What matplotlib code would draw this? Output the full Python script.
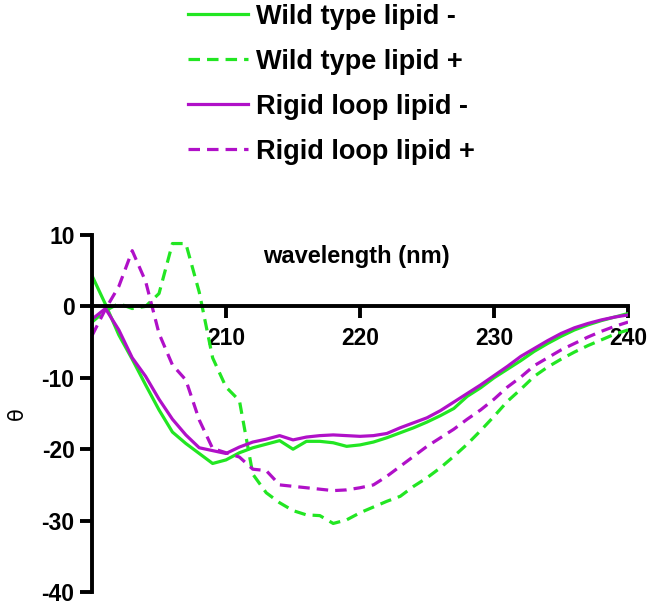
import matplotlib
matplotlib.use("Agg")
import matplotlib.pyplot as plt
import numpy as np

plt.rcParams['font.family'] = ['Liberation Sans', 'DejaVu Sans']
plt.rcParams['axes.unicode_minus'] = False

# wavelength (nm), 1 nm steps
wavelength = np.arange(200, 241)

# Wild type lipid -
wt_minus = [4.3, 0.3, -4.0, -7.4, -11.0, -14.5, -17.6, -19.2, -20.6, -22.0,
            -21.5, -20.5, -19.8, -19.3, -18.8, -20.0, -18.9, -18.9, -19.1, -19.6,
            -19.4, -19.0, -18.4, -17.7, -17.0, -16.2, -15.3, -14.3, -12.6, -11.4,
            -10.0, -8.8, -7.6, -6.3, -5.2, -4.2, -3.3, -2.6, -2.0, -1.5, -1.0]
# Wild type lipid +
wt_plus = [-2.2, -0.6, 0.4, -0.3, 0.0, 1.8, 8.8, 8.8, 2.0, -7.2,
           -11.3, -13.2, -23.5, -26.1, -27.5, -28.6, -29.2, -29.3, -30.4, -29.9,
           -28.9, -28.1, -27.3, -26.6, -25.2, -24.0, -22.6, -21.0, -19.3, -17.4,
           -15.4, -13.3, -11.6, -9.8, -8.5, -7.4, -6.4, -5.5, -4.7, -3.9, -3.3]
# Rigid loop lipid -
rl_minus = [-1.8, -0.3, -3.3, -7.2, -9.8, -13.0, -15.8, -18.0, -19.8, -20.2,
            -20.6, -19.7, -19.0, -18.6, -18.1, -18.7, -18.3, -18.1, -18.0, -18.1,
            -18.2, -18.1, -17.8, -17.0, -16.3, -15.6, -14.6, -13.4, -12.2, -11.0,
            -9.7, -8.4, -7.0, -5.9, -4.8, -3.8, -3.0, -2.4, -1.9, -1.5, -1.2]
# Rigid loop lipid +
rl_plus = [-4.1, -0.4, 2.8, 7.8, 3.5, -3.8, -8.2, -10.3, -15.9, -19.9,
           -20.5, -21.1, -22.8, -23.0, -25.0, -25.2, -25.4, -25.6, -25.8, -25.7,
           -25.4, -25.0, -23.8, -22.4, -21.0, -19.6, -18.4, -17.2, -15.8, -14.5,
           -13.0, -11.3, -9.9, -8.3, -7.2, -6.1, -5.2, -4.3, -3.5, -2.8, -2.2]

xticks = [210, 220, 230, 240]
yticks = [-40, -30, -20, -10, 0, 10]

green = '#22E622'
purple = '#B010C8'
dash = (3.6, 2.2)

fig = plt.figure(figsize=(6.55, 6.1), dpi=100)
ax = fig.add_axes([0.1405, 0.0295, 0.8183, 0.5853])

lw = 2.3
ax.plot(wavelength, wt_minus, color=green, lw=lw, label='Wild type lipid -')
ax.plot(wavelength, wt_plus, color=green, lw=lw, dashes=dash, label='Wild type lipid +')
ax.plot(wavelength, rl_minus, color=purple, lw=lw, label='Rigid loop lipid -')
ax.plot(wavelength, rl_plus, color=purple, lw=lw, dashes=dash, label='Rigid loop lipid +')

ax.set_xlim(200, 240)
ax.set_ylim(-40, 10)
ax.spines['top'].set_visible(False)
ax.spines['right'].set_visible(False)
ax.spines['bottom'].set_position(('data', 0))
ax.spines['left'].set_linewidth(2.8)
ax.spines['bottom'].set_linewidth(2.8)
ax.set_xticks(xticks)
ax.set_yticks(yticks)
ax.tick_params(axis='both', width=2.8, length=8.6, labelsize=16.5)
ax.tick_params(axis='x', pad=6)
ax.tick_params(axis='y', pad=4)
for t in ax.get_xticklabels() + ax.get_yticklabels():
    t.set_fontweight('bold')

ax.set_xlabel('wavelength (nm)', fontsize=17, fontweight='bold')
ax.xaxis.set_label_coords(0.494, 0.94)
ax.xaxis.label.set_verticalalignment('center')
ax.set_ylabel('θ', fontsize=15, family='DejaVu Sans')
ax.yaxis.label.set_verticalalignment('center')
ax.yaxis.set_label_coords(-0.14, 0.5)

fig.legend(loc='upper left', bbox_to_anchor=(0.285, 0.996), frameon=False,
           prop={'weight': 'bold', 'size': 19.5}, handlelength=2.2,
           handletextpad=0.3, labelspacing=0.7, borderpad=0.05,
           borderaxespad=0)

fig.savefig('out.png', dpi=100)
